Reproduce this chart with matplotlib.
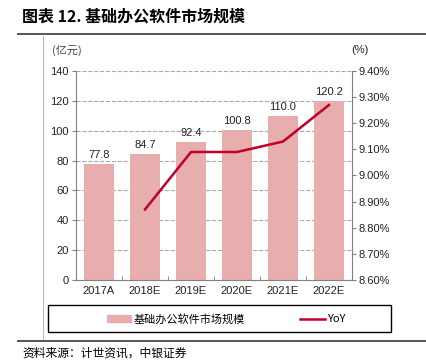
import matplotlib
matplotlib.use("Agg")
import matplotlib.pyplot as plt
from matplotlib.patches import Rectangle
from matplotlib.lines import Line2D
from matplotlib.ticker import FuncFormatter, MultipleLocator, FixedLocator

plt.rcParams['font.family'] = ['Liberation Sans', 'Noto Sans CJK SC', 'DejaVu Sans']

years = ['2017A', '2018E', '2019E', '2020E', '2021E', '2022E']
market = [77.8, 84.7, 92.4, 100.8, 110.0, 120.2]
yoy = [None, 8.87, 9.09, 9.09, 9.13, 9.27]

bar_color = '#E8ADAD'
line_color = '#C0002A'
axis_grey = '#808080'
W, H = 427, 362

fig = plt.figure(figsize=(W / 100, H / 100), dpi=100)


def fx(px):
    return px / W


def fy(py):
    return 1 - py / H


ax = fig.add_axes([fx(76), fy(280), fx(352) - fx(76), fy(71) - fy(280)])
x = list(range(len(years)))
ax.bar(x, market, width=0.65, color=bar_color, zorder=2)
for xi, v in zip(x, market):
    ax.text(xi, v + 2.5, f'{v:.1f}', ha='center', va='bottom', fontsize=8, color='#222222')
ax.set_ylim(0, 140)
ax.set_xlim(-0.5, len(years) - 0.5)
ax.yaxis.set_major_locator(MultipleLocator(20))
ax.set_xticks(x)
ax.set_xticklabels(years)
ax.xaxis.set_minor_locator(FixedLocator([i + 0.5 for i in range(-1, len(years))]))
ax.tick_params(axis='x', which='major', length=0, labelsize=8, pad=4, labelcolor='#222222')
ax.tick_params(axis='x', which='minor', length=3, direction='in', color=axis_grey)
ax.tick_params(axis='y', length=3, direction='out', color=axis_grey, labelsize=8, pad=2,
               labelcolor='#222222')
ax.grid(axis='y', linestyle='--', color='#A8A8A8', linewidth=0.8, zorder=0)
ax.set_axisbelow(True)
for s in ['top', 'right']:
    ax.spines[s].set_visible(False)
for s in ['left', 'bottom']:
    ax.spines[s].set_color(axis_grey)

ax2 = ax.twinx()
xs = [xi for xi, v in zip(x, yoy) if v is not None]
ys = [v for v in yoy if v is not None]
ax2.plot(xs, ys, color=line_color, linewidth=1.8, zorder=3)
ax2.set_ylim(8.6, 9.4)
ax2.yaxis.set_major_locator(MultipleLocator(0.1))
ax2.yaxis.set_major_formatter(FuncFormatter(lambda v, p: f'{v:.2f}%'))
ax2.tick_params(axis='y', length=3, direction='out', color=axis_grey, labelsize=8, pad=2,
                labelcolor='#222222')
for s in ['top', 'left', 'bottom']:
    ax2.spines[s].set_visible(False)
ax2.spines['right'].set_color(axis_grey)

fig.text(fx(67), fy(50), '(亿元)', fontsize=8, color='#444444',
         ha='center', va='center', family=['Noto Sans CJK SC'])
fig.text(fx(360), fy(50), '(%)', fontsize=8, ha='center', va='center', color='#222222')

# title and rules
fig.text(fx(22), fy(17), '图表 12. 基础办公软件市场规模', fontsize=11.5, fontweight='bold',
         ha='left', va='center', family=['Noto Sans CJK SC', 'DejaVu Sans'])
fig.add_artist(Line2D([fx(18), 1], [fy(34), fy(34)], color='#555555', linewidth=1.4))
fig.add_artist(Line2D([fx(18), 1], [fy(341), fy(341)], color='#555555', linewidth=1.4))
fig.add_artist(Line2D([fx(43), fx(43)], [fy(36), fy(339)], color='#BBBBBB', linewidth=0.8))
fig.text(fx(22), fy(353), '资料来源：计世资讯，中银证券', fontsize=8.5, ha='left', va='center',
         style='italic', family=['Noto Sans CJK SC'])

# legend box
fig.add_artist(Rectangle((fx(48), fy(332)), fx(391) - fx(48), fy(305) - fy(332),
                         transform=fig.transFigure, fill=False, edgecolor='black', linewidth=1.0))
handles = [Rectangle((0, 0), 1, 1, color=bar_color),
           Line2D([0], [0], color=line_color, linewidth=1.8)]
fig.legend(handles, ['基础办公软件市场规模', 'YoY'], loc='center',
           bbox_to_anchor=(fx(226), fy(319)), ncol=2, frameon=False,
           columnspacing=5.0, handlelength=2.2, handletextpad=0.2,
           prop={'family': ['Noto Sans CJK SC', 'DejaVu Serif'], 'size': 8})

fig.savefig('out.png', dpi=100)
